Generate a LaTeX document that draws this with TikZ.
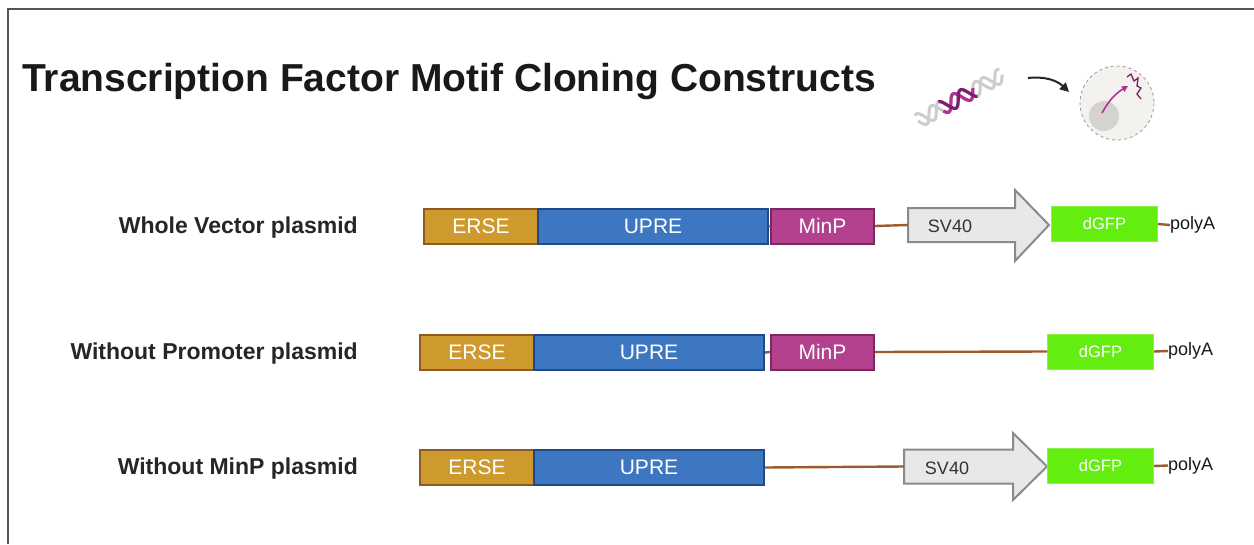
\documentclass[tikz,border=0pt]{standalone}
\usepackage{fontspec}
\setmainfont{Liberation Sans}
\usetikzlibrary{arrows.meta}

\definecolor{frame}{HTML}{555555}
\definecolor{ersefill}{HTML}{CF9A2D}
\definecolor{erseline}{HTML}{8E5A22}
\definecolor{uprefill}{HTML}{3D77C1}
\definecolor{upreline}{HTML}{1E4A8C}
\definecolor{minpfill}{HTML}{B3418E}
\definecolor{minpline}{HTML}{7C2760}
\definecolor{gfpfill}{HTML}{64EE0F}
\definecolor{gfpline}{HTML}{8BF04A}
\definecolor{svfill}{HTML}{E8E8E8}
\definecolor{svline}{HTML}{8A8A8A}
\definecolor{dnaline}{HTML}{9C5A2E}
\definecolor{helixgray}{HTML}{CDCDCD}
\definecolor{helixmag}{HTML}{B0309A}
\definecolor{helixdark}{HTML}{7E1F6E}
\definecolor{cellfill}{HTML}{F3F2EF}
\definecolor{nucfill}{HTML}{D4D3D0}

\begin{document}
\begin{tikzpicture}[x=1pt,y=-1pt,
  part/.style={draw, line width=2pt, anchor=north west, inner sep=0pt,
    text=white, font=\fontsize{21}{21}\selectfont},
  erse/.style={part, fill=ersefill, draw=erseline, minimum width=114, minimum height=35},
  upre/.style={part, fill=uprefill, draw=upreline, minimum width=230, minimum height=35},
  minp/.style={part, fill=minpfill, draw=minpline, minimum width=103, minimum height=35},
  gfp/.style={part, fill=gfpfill, draw=gfpline, line width=1pt, minimum width=106,
    minimum height=35, font=\fontsize{16.5}{16.5}\selectfont},
  promoter/.style={fill=svfill, draw=svline, line width=2pt, line join=miter},
  svtext/.style={inner sep=0pt, text=black!80, font=\fontsize{18}{18}\selectfont},
  backbone/.style={draw=dnaline, line width=2.4pt},
  tail/.style={inner sep=0pt, anchor=west, text=black!90, font=\fontsize{18}{18}\selectfont},
  rowlabel/.style={inner sep=0pt, anchor=base east, text=black!85,
    font=\bfseries\fontsize{23}{23}\selectfont}]

\useasboundingbox (0,0) rectangle (1254,544);
\fill[white] (0,0) rectangle (1254,544);

% open frame
\draw[frame, line width=1.8pt] (8,544) -- (8,9) -- (1254,9);

% title
\node[inner sep=0pt, anchor=base west, text=black!90,
  font=\bfseries\fontsize{39}{39}\selectfont] (title) at (22,91)
  {Transcription Factor Motif Cloning Constructs};

% ---- icon: DNA insert delivered into a cell ----
\begin{scope}[shift={(918,121)}, rotate=28.7]
  \draw[helixgray, line width=3pt, domain=0:96, samples=90, smooth]
    plot (\x, {7*sin(\x*14.4)});
  \draw[helixgray, line width=3pt, domain=0:96, samples=90, smooth]
    plot (\x, {-7*sin(\x*14.4 + 60)});
  \draw[helixmag, line width=3.2pt, domain=27:64, samples=40, smooth]
    plot (\x, {7*sin(\x*14.4)});
  \draw[helixdark, line width=3.2pt, domain=27:64, samples=40, smooth]
    plot (\x, {-7*sin(\x*14.4 + 60)});
\end{scope}
\draw[black!85, line width=2pt, -{Triangle[length=9pt,width=9pt]}]
  (1028,78) to[bend left=25] (1069,92);
\draw[fill=cellfill, draw=black!40, dashed, line width=0.8pt] (1117,103) circle (37);
\fill[nucfill] (1104,116) circle (15);
\draw[helixmag, line width=1.6pt, -{Triangle[length=6pt,width=6pt]}]
  (1102,113) to[bend left=15] (1128,86);
\draw[helixdark, line width=1.3pt]
  (1127,77) -- (1131,74) -- (1134,81) -- (1138,78) -- (1137,86)
  -- (1141,88) -- (1137,94) -- (1141,99);

% ---- row 1: whole vector ----
\node[rowlabel] (l1) at (358,233) {Whole Vector plasmid};
\node[erse] (e1) at (423,208) {ERSE};
\node[upre] (u1) at (537,208) {UPRE};
\node[minp] (m1) at (770,207.5) {MinP};
\path[promoter] (908,208) -- (1015,208) -- (1015,190) -- (1049,225)
  -- (1015,261) -- (1015,242) -- (908,242) -- cycle;
\coordinate (s1) at (908,225);
\node[svtext] (t1) at (950,226) {SV40};
\node[gfp] (g1) at (1051,206) {dGFP};
\node[tail] (p1) at (1170,225) {polyA};
\draw[backbone] (u1.east) -- (m1.west);
\draw[backbone] (m1.east) -- (s1);
\draw[backbone] (g1.east) -- (p1.west);

% ---- row 2: without promoter ----
\node[rowlabel] (l2) at (358,359) {Without Promoter plasmid};
\node[erse] (e2) at (419,334) {ERSE};
\node[upre] (u2) at (533,334) {UPRE};
\node[minp] (m2) at (770,333.5) {MinP};
\node[gfp] (g2) at (1047,333.5) {dGFP};
\node[tail] (p2) at (1168,351) {polyA};
\draw[backbone] (u2.east) -- (m2.west);
\draw[backbone] (m2.east) -- (g2.west);
\draw[backbone] (g2.east) -- (p2.west);

% ---- row 3: without MinP ----
\node[rowlabel] (l3) at (358,474) {Without MinP plasmid};
\node[erse] (e3) at (419,449) {ERSE};
\node[upre] (u3) at (533,449) {UPRE};
\path[promoter] (904,449.5) -- (1013,449.5) -- (1013,433) -- (1047,466.5)
  -- (1013,500) -- (1013,483.5) -- (904,483.5) -- cycle;
\coordinate (s3) at (904,466.5);
\node[svtext] (t3) at (947,468) {SV40};
\node[gfp] (g3) at (1047,448) {dGFP};
\node[tail] (p3) at (1168,465.5) {polyA};
\draw[backbone] (u3.east) -- (s3);
\draw[backbone] (g3.east) -- (p3.west);

\end{tikzpicture}
\end{document}
